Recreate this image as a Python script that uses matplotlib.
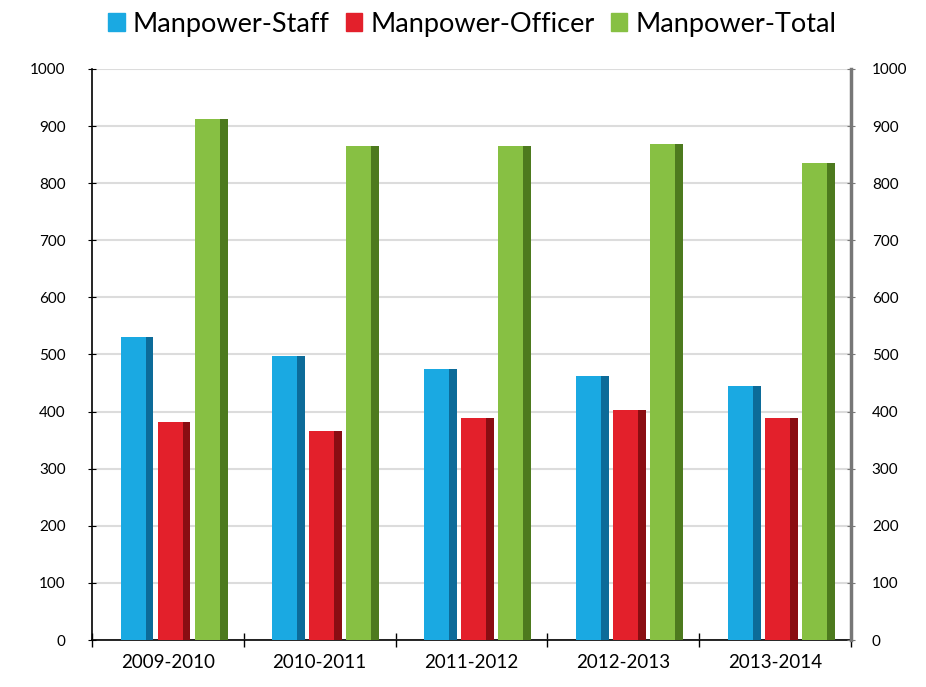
import matplotlib.pyplot as plt
import numpy as np
from matplotlib.patches import Patch

years = ['2009-2010', '2010-2011', '2011-2012', '2012-2013', '2013-2014']
staff = [530, 497, 475, 462, 445]
officer = [382, 366, 389, 403, 389]
total = [912, 865, 865, 868, 835]

series = [('Manpower-Staff', staff, '#1aa9e2', '#0c6b99'),
          ('Manpower-Officer', officer, '#e3202b', '#8a0d12'),
          ('Manpower-Total', total, '#87c043', '#4d7a1e')]

plt.rcParams['font.family'] = ['Lato', 'DejaVu Sans']

fig = plt.figure(figsize=(9.26, 6.87), dpi=100)
ax = fig.add_axes([0.0994, 0.0684, 0.8196, 0.8312])

x = np.arange(len(years))
front_w = 0.165
side_w = 0.052
step = 0.244
shift = 0.04
for i, (name, vals, c_front, c_side) in enumerate(series):
    pos = x + (i - 1) * step + shift
    ax.bar(pos - side_w / 2, vals, width=front_w, color=c_front, zorder=3)
    ax.bar(pos + front_w / 2, vals, width=side_w, color=c_side, zorder=3)

ax.set_xlim(-0.5, len(years) - 0.5)
ax.set_ylim(0, 1000)
ax.set_yticks(range(0, 1001, 100))
ax.set_xticks(x)
ax.set_xticklabels(years, fontsize=13.5)
ax.set_xticks(np.arange(-0.5, len(years), 1), minor=True)
ax.tick_params(axis='x', which='major', length=0, pad=10)
ax.tick_params(axis='x', which='minor', length=10, direction='inout', width=1)
ax.tick_params(axis='y', labelsize=11, length=6, direction='inout', pad=16)
ax.grid(axis='y', color='#dcdcdc', linewidth=1.5, zorder=0)
ax.spines['top'].set_visible(False)
ax.spines['right'].set_visible(False)
ax.spines['left'].set_linewidth(1.2)
ax.spines['bottom'].set_linewidth(1.2)

ax2 = ax.twinx()
ax2.set_ylim(0, 1000)
ax2.set_yticks(range(0, 1001, 100))
ax2.tick_params(axis='y', labelsize=11, length=6, direction='inout', pad=12, color='#777777')
for s in ['top', 'left', 'bottom']:
    ax2.spines[s].set_visible(False)
ax2.spines['right'].set_color('#777777')
ax2.spines['right'].set_linewidth(2.5)

handles = [Patch(color=c, label=n) for n, _, c, _ in series]
fig.legend(handles=handles, loc='center', bbox_to_anchor=(0.51, 0.965), ncol=3,
           frameon=False, fontsize=19.5, handlelength=0.6, handleheight=0.6,
           handletextpad=0.3, columnspacing=0.6)

fig.savefig('out.png', dpi=100)
